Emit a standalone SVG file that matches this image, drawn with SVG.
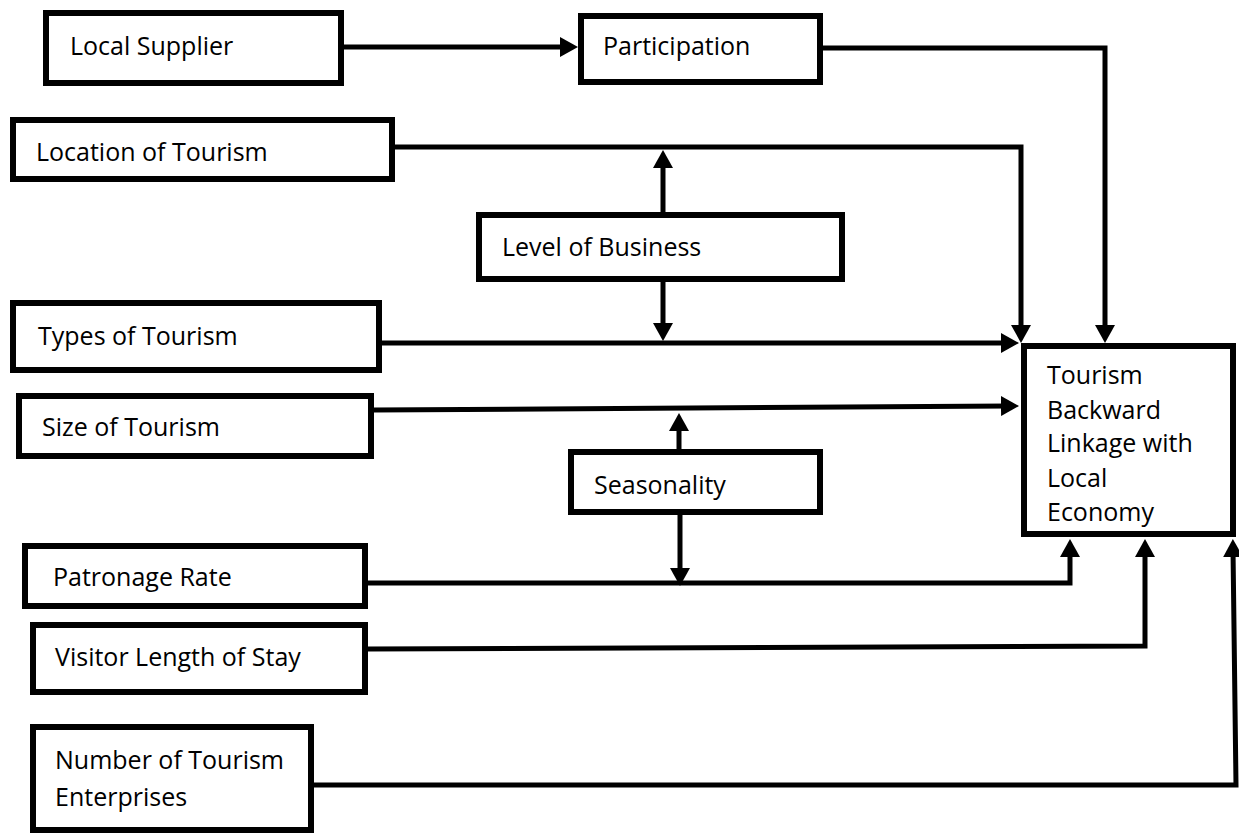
<svg xmlns="http://www.w3.org/2000/svg" width="1239" height="834" viewBox="0 0 1239 834">
<style>
.box{fill:#fff;stroke:#000;stroke-width:6}
.lbl{font-family:"Open Sans","Liberation Sans",sans-serif;font-size:25px;fill:#000}
.con{fill:none;stroke:#000;stroke-width:5;stroke-linejoin:miter;stroke-linecap:butt}
.arr{marker-end:url(#ah)}
</style>
<defs>
<marker id="ah" markerUnits="userSpaceOnUse" viewBox="0 0 18 20" markerWidth="18" markerHeight="20" refX="8" refY="10" orient="auto">
<path d="M0,0 L18,10 L0,20 z" fill="#000"/>
</marker>
</defs>
<rect width="1239" height="834" fill="#fff"/>
<g id="connectors">
<path class="con arr" d="M344,47 H568"/>
<path class="con arr" d="M822,48 H1105 V333"/>
<path class="con arr" d="M395,147 H1021 V333"/>
<path class="con arr" d="M663,212 V160"/>
<path class="con arr" d="M663,282 V331"/>
<path class="con arr" d="M382,343 H1009"/>
<path class="con arr" d="M374,410 L1009,406"/>
<path class="con arr" d="M679,449 V423"/>
<path class="con arr" d="M680,515 V576"/>
<path class="con arr" d="M368,583 H1070 V549"/>
<path class="con arr" d="M368,649 L1145,646 V549"/>
<path class="con arr" d="M314,785 H1236 L1233,549"/>
</g>
<g id="local-supplier">
<rect class="box" x="46" y="13" width="295" height="70"/>
<text class="lbl" x="70" y="55">Local Supplier</text>
</g>
<g id="participation">
<rect class="box" x="581" y="16" width="239" height="66"/>
<text class="lbl" x="603" y="55">Participation</text>
</g>
<g id="location-of-tourism">
<rect class="box" x="13" y="120" width="379" height="59"/>
<text class="lbl" x="36" y="161">Location of Tourism</text>
</g>
<g id="level-of-business">
<rect class="box" x="479" y="215" width="363" height="64"/>
<text class="lbl" x="502" y="256">Level of Business</text>
</g>
<g id="types-of-tourism">
<rect class="box" x="13" y="303" width="366" height="67"/>
<text class="lbl" x="38" y="345">Types of Tourism</text>
</g>
<g id="size-of-tourism">
<rect class="box" x="19" y="396" width="352" height="60"/>
<text class="lbl" x="42" y="436">Size of Tourism</text>
</g>
<g id="seasonality">
<rect class="box" x="571" y="452" width="249" height="60"/>
<text class="lbl" x="594" y="494">Seasonality</text>
</g>
<g id="patronage-rate">
<rect class="box" x="25" y="546" width="340" height="60"/>
<text class="lbl" x="53" y="586">Patronage Rate</text>
</g>
<g id="visitor-length-of-stay">
<rect class="box" x="33" y="625" width="332" height="67"/>
<text class="lbl" x="55" y="666">Visitor Length of Stay</text>
</g>
<g id="number-of-tourism-enterprises">
<rect class="box" x="33" y="727" width="278" height="103"/>
<text class="lbl" x="55" y="769">Number of Tourism</text>
<text class="lbl" x="55" y="806">Enterprises</text>
</g>
<g id="tourism-backward-linkage">
<rect class="box" x="1024" y="346" width="209" height="188"/>
<text class="lbl" x="1047" y="384">Tourism</text>
<text class="lbl" x="1047" y="419">Backward</text>
<text class="lbl" x="1047" y="452">Linkage with</text>
<text class="lbl" x="1047" y="487">Local</text>
<text class="lbl" x="1047" y="521">Economy</text>
</g>
</svg>
